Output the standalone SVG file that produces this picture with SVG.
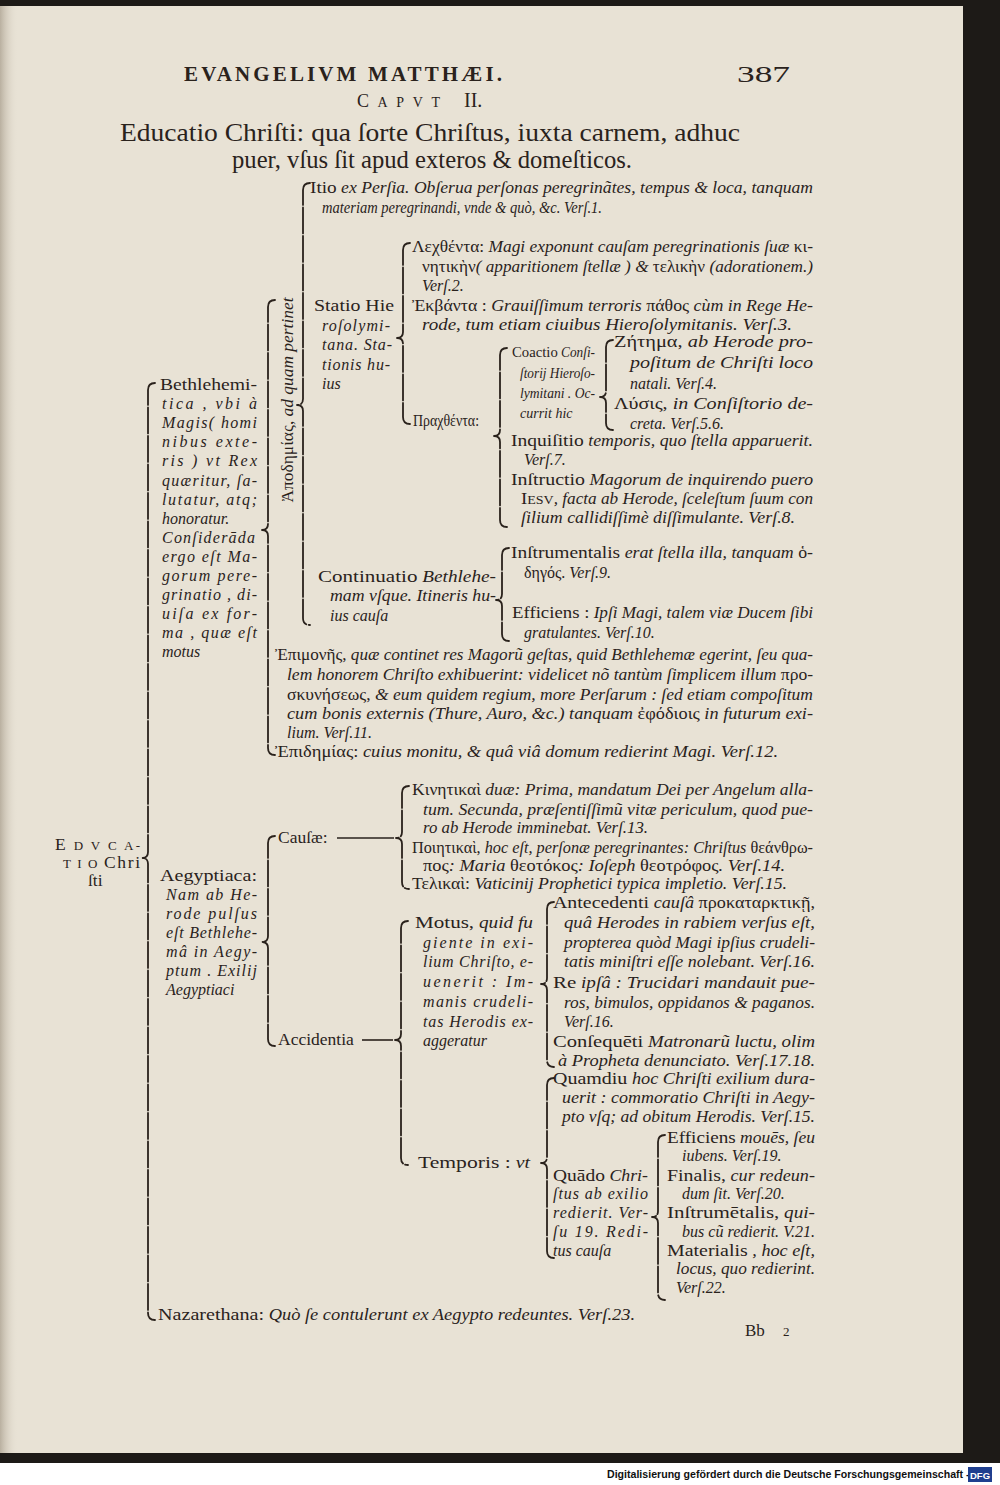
<svg xmlns="http://www.w3.org/2000/svg" width="1000" height="1485" viewBox="0 0 1000 1485">
<defs>
<linearGradient id="edgeL" x1="0" y1="0" x2="1" y2="0">
<stop offset="0" stop-color="#b9b0a0"/>
<stop offset="1" stop-color="#e8e2d5" stop-opacity="0"/>
</linearGradient>
<style>
.t{font-family:"Liberation Serif","DejaVu Serif",serif;fill:#2a221c;font-size:16px;font-style:italic}
.u{font-style:normal;font-size:17.5px}
.g{font-style:normal;font-size:16px}
.sc{font-style:normal;font-size:13px}
.sm{font-size:14px}
.smu{font-style:normal;font-size:15.5px}
.hd{font-family:"Liberation Serif","DejaVu Serif",serif;fill:#2a221c;font-style:normal}
.br{fill:none;stroke:#2a221c;stroke-width:1.8;stroke-linecap:round;stroke-linejoin:round;stroke-dasharray:26 2.5}
.ln{fill:none;stroke:#2a221c;stroke-width:1.6}
</style>
</defs>
<rect x="0" y="0" width="1000" height="1485" fill="#1d1a17"/>
<rect x="0" y="6" width="963" height="1447" fill="#e8e2d5"/>
<rect x="0" y="6" width="18" height="1447" fill="url(#edgeL)"/>
<rect x="0" y="1463" width="1000" height="22" fill="#ffffff"/>

<g id="header">
<text class="hd" x="184" y="81" font-size="21" font-weight="bold" textLength="318" lengthAdjust="spacing">EVANGELIVM MATTHÆI.</text>
<text class="hd" x="737" y="82" font-size="24" textLength="53" lengthAdjust="spacingAndGlyphs">387</text>
<text class="hd" x="357" y="107" font-size="18" font-style="italic" textLength="83" lengthAdjust="spacing">C<tspan font-size="14">APVT</tspan></text>
<text class="hd" x="464" y="107" font-size="20" font-style="italic">II.</text>
<text class="hd" x="120" y="141" font-size="25" textLength="620" lengthAdjust="spacingAndGlyphs">Educatio Chriſti: qua ſorte Chriſtus, iuxta carnem, adhuc</text>
<text class="hd" x="232" y="168" font-size="25" textLength="400" lengthAdjust="spacingAndGlyphs">puer, vſus ſit apud exteros &amp; domeſticos.</text>
</g>

<g id="connectors">
<path class="br" d="M155,383 Q148,383 148,390 V852 Q148,858 142,858 Q148,858 148,864 V1313 Q148,1320 155,1320"/>
<path class="br" d="M275,300 Q268,300 268,307 V524 Q268,530 262,530 Q268,530 268,536 V748 Q268,755 275,755"/>
<path class="br" d="M310,183 Q303,183 303,190 V399 Q303,405 297,405 Q303,405 303,411 V618 Q303,625 310,625"/>
<path class="br" d="M410,243 Q403,243 403,250 V332 Q403,338 397,338 Q403,338 403,344 V417 Q403,424 410,424"/>
<path class="br" d="M507,348 Q500,348 500,355 V430 Q500,436 494,436 Q500,436 500,442 V520 Q500,527 507,527"/>
<path class="br" d="M613,340 Q606,340 606,347 V391 Q606,397 600,397 Q606,397 606,403 V423 Q606,430 613,430"/>
<path class="br" d="M509,548 Q502,548 502,555 V594 Q502,600 496,600 Q502,600 502,606 V634 Q502,641 509,641"/>
<path class="br" d="M275,836 Q268,836 268,843 V936 Q268,942 262,942 Q268,942 268,948 V1039 Q268,1046 275,1046"/>
<path class="br" d="M409,786 Q402,786 402,793 V832 Q402,838 396,838 Q402,838 402,844 V882 Q402,889 409,889"/>
<path class="br" d="M408,921 Q401,921 401,928 V1034 Q401,1040 395,1040 Q401,1040 401,1046 V1158 Q401,1165 408,1165"/>
<path class="br" d="M554,902 Q547,902 547,909 V978 Q547,984 541,984 Q547,984 547,990 V1060 Q547,1067 554,1067"/>
<path class="br" d="M554,1078 Q547,1078 547,1085 V1157 Q547,1163 541,1163 Q547,1163 547,1169 V1251 Q547,1258 554,1258"/>
<path class="br" d="M665,1135 Q658,1135 658,1142 V1211 Q658,1217 652,1217 Q658,1217 658,1223 V1293 Q658,1300 665,1300"/>
<path class="ln" d="M337,838 H394"/>
<path class="ln" d="M362,1040 H393"/>
</g>

<g id="node-educatio">
<text class="t" x="55" y="850" textLength="85" lengthAdjust="spacing"><tspan class="u">E</tspan><tspan class="sc"> D V C A-</tspan></text>
<text class="t" x="63" y="868" textLength="77" lengthAdjust="spacing"><tspan class="sc">T I O </tspan><tspan class="u">Chri</tspan></text>
<text class="t" x="88" y="886"><tspan class="u">ſti</tspan></text>
</g>

<g id="node-bethlehemitica">
<text class="t" x="160" y="390" textLength="97" lengthAdjust="spacingAndGlyphs"><tspan class="u">Bethlehemi-</tspan></text>
<text class="t" x="162" y="409" textLength="95" lengthAdjust="spacing">tica , vbi à</text>
<text class="t" x="162" y="428" textLength="95" lengthAdjust="spacing">Magis( homi</text>
<text class="t" x="162" y="447" textLength="95" lengthAdjust="spacing">nibus exte-</text>
<text class="t" x="162" y="466" textLength="95" lengthAdjust="spacing">ris ) vt Rex</text>
<text class="t" x="162" y="486" textLength="95" lengthAdjust="spacing">quæritur, ſa-</text>
<text class="t" x="162" y="505" textLength="95" lengthAdjust="spacing">lutatur, atq;</text>
<text class="t" x="162" y="524">honoratur.</text>
<text class="t" x="162" y="543" textLength="93" lengthAdjust="spacing">Conſiderāda</text>
<text class="t" x="162" y="562" textLength="95" lengthAdjust="spacing">ergo eſt Ma-</text>
<text class="t" x="162" y="581" textLength="95" lengthAdjust="spacing">gorum pere-</text>
<text class="t" x="162" y="600" textLength="95" lengthAdjust="spacing">grinatio , di-</text>
<text class="t" x="162" y="619" textLength="95" lengthAdjust="spacing">uiſa ex for-</text>
<text class="t" x="162" y="638" textLength="95" lengthAdjust="spacing">ma , quæ eſt</text>
<text class="t" x="162" y="657">motus</text>
</g>

<g id="node-apodemias">
<text class="t" transform="translate(293,400) rotate(-90)" x="0" y="0" text-anchor="middle" textLength="205" lengthAdjust="spacingAndGlyphs"><tspan class="g">Ἀποδημίας,</tspan> ad quam pertinet</text>
</g>

<g id="node-itio">
<text class="t" x="310" y="193" textLength="503" lengthAdjust="spacingAndGlyphs"><tspan class="u">Itio</tspan> ex Perſia. Obſerua perſonas peregrinãtes, tempus &amp; loca, tanquam</text>
<text class="t" x="322" y="213" textLength="280" lengthAdjust="spacingAndGlyphs">materiam peregrinandi, vnde &amp; quò, &amp;c. Verſ.1.</text>
</g>

<g id="node-statio">
<text class="t" x="314" y="311" textLength="80" lengthAdjust="spacingAndGlyphs"><tspan class="u">Statio Hie</tspan></text>
<text class="t" x="322" y="331" textLength="68" lengthAdjust="spacing">roſolymi-</text>
<text class="t" x="322" y="350" textLength="70" lengthAdjust="spacing">tana. Sta-</text>
<text class="t" x="322" y="370" textLength="68" lengthAdjust="spacing">tionis hu-</text>
<text class="t" x="322" y="389">ius</text>
</g>

<g id="node-lechthenta">
<text class="t" x="412" y="252" textLength="401" lengthAdjust="spacingAndGlyphs"><tspan class="g">Λεχθέντα:</tspan> Magi exponunt cauſam peregrinationis ſuæ <tspan class="g">κι-</tspan></text>
<text class="t" x="422" y="272" textLength="391" lengthAdjust="spacingAndGlyphs"><tspan class="g">νητικὴν</tspan>( apparitionem ſtellæ ) &amp; <tspan class="g">τελικὴν</tspan> (adorationem.)</text>
<text class="t" x="422" y="291">Verſ.2.</text>
</g>

<g id="node-ekbanta">
<text class="t" x="412" y="311" textLength="401" lengthAdjust="spacingAndGlyphs"><tspan class="g">Ἐκβάντα :</tspan> Grauiſſimum terroris <tspan class="g">πάθος</tspan> cùm in Rege He-</text>
<text class="t" x="422" y="330" textLength="370" lengthAdjust="spacingAndGlyphs">rode, tum etiam ciuibus Hieroſolymitanis. Verſ.3.</text>
</g>

<g id="node-prachthenta">
<text class="t" x="413" y="426" textLength="66" lengthAdjust="spacingAndGlyphs"><tspan class="g">Πραχθέντα:</tspan></text>
</g>

<g id="node-coactio">
<text class="t sm" x="512" y="357" textLength="83" lengthAdjust="spacingAndGlyphs"><tspan class="smu">Coactio</tspan> Conſi-</text>
<text class="t sm" x="520" y="378" textLength="75" lengthAdjust="spacingAndGlyphs">ſtorij Hieroſo-</text>
<text class="t sm" x="520" y="398" textLength="75" lengthAdjust="spacingAndGlyphs">lymitani . Oc-</text>
<text class="t sm" x="520" y="418">currit hic</text>
</g>

<g id="node-zetema">
<text class="t" x="614" y="347" textLength="199" lengthAdjust="spacingAndGlyphs"><tspan class="g">Ζήτημα,</tspan> ab Herode pro-</text>
<text class="t" x="630" y="368" textLength="183" lengthAdjust="spacingAndGlyphs">poſitum de Chriſti loco</text>
<text class="t" x="630" y="389">natali. Verſ.4.</text>
</g>

<g id="node-lysis">
<text class="t" x="614" y="409" textLength="199" lengthAdjust="spacingAndGlyphs"><tspan class="g">Λύσις,</tspan> in Conſiſtorio de-</text>
<text class="t" x="630" y="429">creta. Verſ.5.6.</text>
</g>

<g id="node-inquisitio">
<text class="t" x="511" y="446" textLength="302" lengthAdjust="spacingAndGlyphs"><tspan class="u">Inquiſitio</tspan> temporis, quo ſtella apparuerit.</text>
<text class="t" x="524" y="465">Verſ.7.</text>
</g>

<g id="node-instructio">
<text class="t" x="511" y="485" textLength="302" lengthAdjust="spacingAndGlyphs"><tspan class="u">Inſtructio</tspan> Magorum de inquirendo puero</text>
<text class="t" x="521" y="504" textLength="292" lengthAdjust="spacingAndGlyphs"><tspan class="u">I</tspan><tspan class="sc">ESV</tspan>, facta ab Herode, ſceleſtum ſuum con</text>
<text class="t" x="521" y="523" textLength="274" lengthAdjust="spacingAndGlyphs">ſilium callidiſſimè diſſimulante. Verſ.8.</text>
</g>

<g id="node-continuatio">
<text class="t" x="318" y="582" textLength="178" lengthAdjust="spacingAndGlyphs"><tspan class="u">Continuatio</tspan> Bethlehe-</text>
<text class="t" x="330" y="601" textLength="166" lengthAdjust="spacingAndGlyphs">mam vſque. Itineris hu-</text>
<text class="t" x="330" y="621">ius cauſa</text>
</g>

<g id="node-instrumentalis">
<text class="t" x="511" y="558" textLength="302" lengthAdjust="spacingAndGlyphs"><tspan class="u">Inſtrumentalis</tspan> erat ſtella illa, tanquam <tspan class="g">ὁ-</tspan></text>
<text class="t" x="524" y="578"><tspan class="g">δηγός.</tspan> Verſ.9.</text>
</g>

<g id="node-efficiens-magi">
<text class="t" x="512" y="618" textLength="301" lengthAdjust="spacingAndGlyphs"><tspan class="u">Efficiens :</tspan> Ipſi Magi, talem viæ Ducem ſibi</text>
<text class="t" x="524" y="638">gratulantes. Verſ.10.</text>
</g>

<g id="node-epimones">
<text class="t" x="275" y="660" textLength="538" lengthAdjust="spacingAndGlyphs"><tspan class="g">Ἐπιμονῆς,</tspan> quæ continet res Magorũ geſtas, quid Bethlehemæ egerint, ſeu qua-</text>
<text class="t" x="287" y="680" textLength="526" lengthAdjust="spacingAndGlyphs">lem honorem Chriſto exhibuerint: videlicet nõ tantùm ſimplicem illum <tspan class="g">προ-</tspan></text>
<text class="t" x="287" y="700" textLength="526" lengthAdjust="spacingAndGlyphs"><tspan class="g">σκυνήσεως,</tspan> &amp; eum quidem regium, more Perſarum : ſed etiam compoſitum</text>
<text class="t" x="287" y="719" textLength="526" lengthAdjust="spacingAndGlyphs">cum bonis externis (Thure, Auro, &amp;c.) tanquam <tspan class="g">ἐφόδιοις</tspan> in futurum exi-</text>
<text class="t" x="287" y="738">lium. Verſ.11.</text>
</g>

<g id="node-epidemias">
<text class="t" x="275" y="757" textLength="503" lengthAdjust="spacingAndGlyphs"><tspan class="g">Ἐπιδημίας:</tspan> cuius monitu, &amp; quâ viâ domum redierint Magi. Verſ.12.</text>
</g>

<g id="node-aegyptiaca">
<text class="t" x="160" y="881" textLength="97" lengthAdjust="spacingAndGlyphs"><tspan class="u">Aegyptiaca:</tspan></text>
<text class="t" x="166" y="900" textLength="91" lengthAdjust="spacing">Nam ab He-</text>
<text class="t" x="166" y="919" textLength="91" lengthAdjust="spacing">rode pulſus</text>
<text class="t" x="166" y="938" textLength="91" lengthAdjust="spacing">eſt Bethlehe-</text>
<text class="t" x="166" y="957" textLength="91" lengthAdjust="spacing">mâ in Aegy-</text>
<text class="t" x="166" y="976" textLength="91" lengthAdjust="spacing">ptum . Exilij</text>
<text class="t" x="166" y="995">Aegyptiaci</text>
</g>

<g id="node-causae">
<text class="t" x="278" y="843"><tspan class="u" font-size="18">Cauſæ:</tspan></text>
</g>

<g id="node-kinetikai">
<text class="t" x="412" y="795" textLength="401" lengthAdjust="spacingAndGlyphs"><tspan class="g">Κινητικαὶ</tspan> duæ: Prima, mandatum Dei per Angelum alla-</text>
<text class="t" x="423" y="815" textLength="390" lengthAdjust="spacingAndGlyphs">tum. Secunda, præſentiſſimũ vitæ periculum, quod pue-</text>
<text class="t" x="423" y="833" textLength="225" lengthAdjust="spacingAndGlyphs">ro ab Herode imminebat. Verſ.13.</text>
</g>

<g id="node-poietikai">
<text class="t" x="412" y="853" textLength="401" lengthAdjust="spacingAndGlyphs"><tspan class="g">Ποιητικαὶ,</tspan> hoc eſt, perſonæ peregrinantes: Chriſtus <tspan class="g">θεάνθρω-</tspan></text>
<text class="t" x="423" y="871" textLength="362" lengthAdjust="spacingAndGlyphs"><tspan class="g">πος</tspan>: Maria <tspan class="g">θεοτόκος</tspan>: Ioſeph <tspan class="g">θεοτρόφος</tspan>. Verſ.14.</text>
</g>

<g id="node-telikai">
<text class="t" x="412" y="889" textLength="375" lengthAdjust="spacingAndGlyphs"><tspan class="g">Τελικαὶ:</tspan> Vaticinij Prophetici typica impletio. Verſ.15.</text>
</g>

<g id="node-accidentia">
<text class="t" x="278" y="1045"><tspan class="u" font-size="18">Accidentia</tspan></text>
</g>

<g id="node-motus">
<text class="t" x="415" y="928" textLength="118" lengthAdjust="spacingAndGlyphs"><tspan class="u">Motus,</tspan> quid fu</text>
<text class="t" x="423" y="948" textLength="110" lengthAdjust="spacing">giente in exi-</text>
<text class="t" x="423" y="967" textLength="110" lengthAdjust="spacing">lium Chriſto, e-</text>
<text class="t" x="423" y="987" textLength="110" lengthAdjust="spacing">uenerit : Im-</text>
<text class="t" x="423" y="1007" textLength="110" lengthAdjust="spacing">manis crudeli-</text>
<text class="t" x="423" y="1027" textLength="110" lengthAdjust="spacing">tas Herodis ex-</text>
<text class="t" x="423" y="1046">aggeratur</text>
</g>

<g id="node-antecedenti">
<text class="t" x="553" y="908" textLength="262" lengthAdjust="spacingAndGlyphs"><tspan class="u">Antecedenti</tspan> cauſâ <tspan class="g">προκαταρκτικῇ,</tspan></text>
<text class="t" x="564" y="928" textLength="251" lengthAdjust="spacingAndGlyphs">quâ Herodes in rabiem verſus eſt,</text>
<text class="t" x="564" y="948" textLength="251" lengthAdjust="spacingAndGlyphs">propterea quòd Magi ipſius crudeli-</text>
<text class="t" x="564" y="967" textLength="251" lengthAdjust="spacingAndGlyphs">tatis miniſtri eſſe nolebant. Verſ.16.</text>
</g>

<g id="node-reipsa">
<text class="t" x="553" y="988" textLength="262" lengthAdjust="spacingAndGlyphs"><tspan class="u">Re</tspan> ipſâ : Trucidari mandauit pue-</text>
<text class="t" x="564" y="1008" textLength="251" lengthAdjust="spacingAndGlyphs">ros, bimulos, oppidanos &amp; paganos.</text>
<text class="t" x="564" y="1027">Verſ.16.</text>
</g>

<g id="node-consequenti">
<text class="t" x="553" y="1047" textLength="262" lengthAdjust="spacingAndGlyphs"><tspan class="u">Conſequēti</tspan> Matronarũ luctu, olim</text>
<text class="t" x="558" y="1066" textLength="257" lengthAdjust="spacingAndGlyphs">à Propheta denunciato. Verſ.17.18.</text>
</g>

<g id="node-temporis">
<text class="t" x="418" y="1168" textLength="112" lengthAdjust="spacingAndGlyphs"><tspan class="u">Temporis :</tspan> vt</text>
</g>

<g id="node-quamdiu">
<text class="t" x="553" y="1084" textLength="262" lengthAdjust="spacingAndGlyphs"><tspan class="u">Quamdiu</tspan> hoc Chriſti exilium dura-</text>
<text class="t" x="562" y="1103" textLength="253" lengthAdjust="spacingAndGlyphs">uerit : commoratio Chriſti in Aegy-</text>
<text class="t" x="562" y="1122" textLength="253" lengthAdjust="spacingAndGlyphs">pto vſq; ad obitum Herodis. Verſ.15.</text>
</g>

<g id="node-quando">
<text class="t" x="553" y="1181" textLength="95" lengthAdjust="spacingAndGlyphs"><tspan class="u">Quādo</tspan> Chri-</text>
<text class="t" x="553" y="1199" textLength="95" lengthAdjust="spacing">ſtus ab exilio</text>
<text class="t" x="553" y="1218" textLength="95" lengthAdjust="spacing">redierit. Ver-</text>
<text class="t" x="553" y="1237" textLength="95" lengthAdjust="spacing">ſu 19. Redi-</text>
<text class="t" x="553" y="1256">tus cauſa</text>
</g>

<g id="node-efficiens">
<text class="t" x="667" y="1143" textLength="148" lengthAdjust="spacingAndGlyphs"><tspan class="u">Efficiens</tspan> mouēs, ſeu</text>
<text class="t" x="682" y="1161">iubens. Verſ.19.</text>
</g>

<g id="node-finalis">
<text class="t" x="667" y="1181" textLength="148" lengthAdjust="spacingAndGlyphs"><tspan class="u">Finalis,</tspan> cur redeun-</text>
<text class="t" x="682" y="1199">dum ſit. Verſ.20.</text>
</g>

<g id="node-instrumetalis">
<text class="t" x="667" y="1218" textLength="148" lengthAdjust="spacingAndGlyphs"><tspan class="u">Inſtrumētalis,</tspan> qui-</text>
<text class="t" x="682" y="1237" textLength="133" lengthAdjust="spacingAndGlyphs">bus cũ redierit. V.21.</text>
</g>

<g id="node-materialis">
<text class="t" x="667" y="1256" textLength="148" lengthAdjust="spacingAndGlyphs"><tspan class="u">Materialis</tspan> , hoc eſt,</text>
<text class="t" x="676" y="1274" textLength="139" lengthAdjust="spacingAndGlyphs">locus, quo redierint.</text>
<text class="t" x="676" y="1293">Verſ.22.</text>
</g>

<g id="node-nazarethana">
<text class="t" x="158" y="1320" textLength="477" lengthAdjust="spacingAndGlyphs"><tspan class="u">Nazarethana:</tspan> Quò ſe contulerunt ex Aegypto redeuntes. Verſ.23.</text>
</g>

<g id="signature">
<text class="hd" x="745" y="1336" font-size="17">Bb</text>
<text class="hd" x="783" y="1336" font-size="13">2</text>
</g>

<g id="footer">
<text x="607" y="1478" font-family="Liberation Sans, Arial, sans-serif" font-size="10.6" font-weight="bold" fill="#111111">Digitalisierung gefördert durch die Deutsche Forschungsgemeinschaft -</text>
<rect x="968" y="1467" width="24" height="15" fill="#1f3f8f"/>
<text x="980" y="1478.5" text-anchor="middle" font-family="Liberation Sans, Arial, sans-serif" font-size="9.5" font-weight="bold" fill="#ffffff">DFG</text>
</g>
</svg>
